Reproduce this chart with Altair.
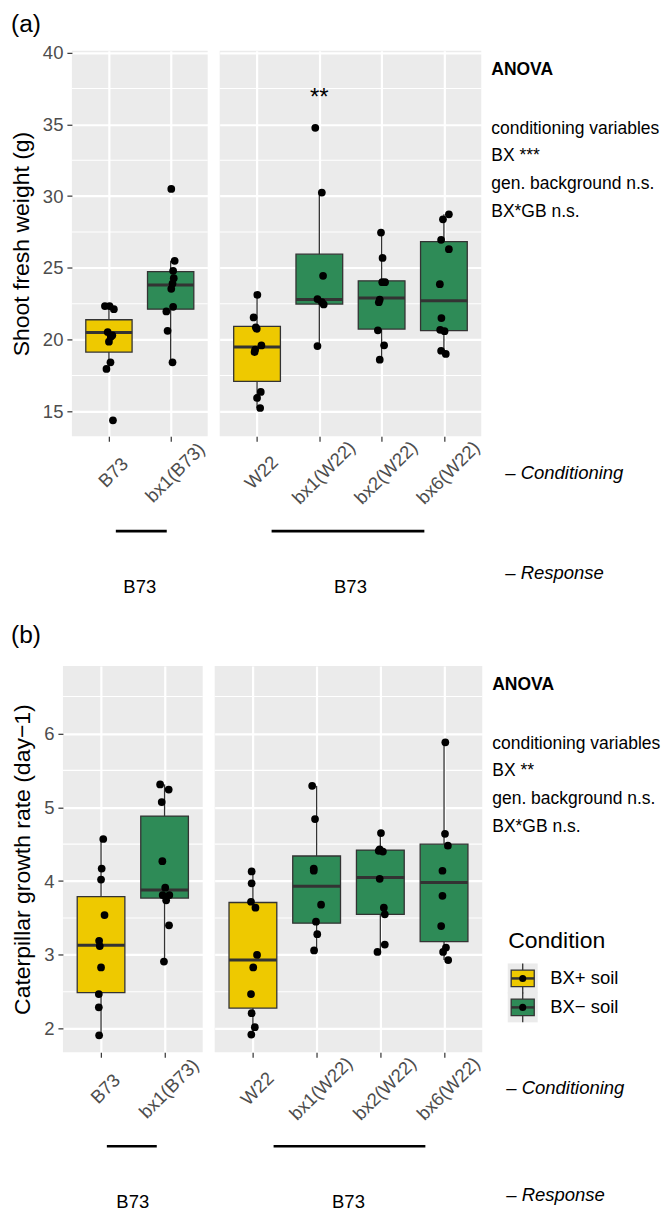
import json
import altair as alt
import pandas as pd

FONT = "Liberation Sans"
YELLOW = "#EEC900"
GREEN = "#2E8B57"
EDGE = "#333333"
PANEL = "#EBEBEB"

# ---------------- categories and labels ----------------
conditions = ["BX+ soil", "BX\u2212 soil"]
cats_b73 = ["B73", "bx1(B73)"]
cats_w22 = ["W22", "bx1(W22)", "bx2(W22)", "bx6(W22)"]
cond_b73 = ["BX+ soil", "BX\u2212 soil"]
cond_w22 = ["BX+ soil", "BX\u2212 soil", "BX\u2212 soil", "BX\u2212 soil"]
response_labels = ["B73", "B73"]
panel_labels = ["(a)", "(b)"]
a_title = "Shoot fresh weight (g)"
b_title = "Caterpillar growth rate (day\u22121)"
anova_head = ["ANOVA"]
a_anova = ["conditioning variables", "BX ***", "gen. background n.s.", "BX*GB n.s."]
b_anova = ["conditioning variables", "BX **", "gen. background n.s.", "BX*GB n.s."]
note_conditioning = ["\u2013 Conditioning"]
note_response = ["\u2013 Response"]
legend_title = ["Condition"]

# ---------------- axes ----------------
a_domain = [13.26, 40.12]
a_ticks = [15, 20, 25, 30, 35, 40]
a_minor = [17.5, 22.5, 27.5, 32.5, 37.5]
b_domain = [1.68, 6.915]
b_ticks = [2, 3, 4, 5, 6]
b_minor = [2.5, 3.5, 4.5, 5.5, 6.5]

# ---------------- (a) box statistics ----------------
a1_q1 = [19.13, 22.12]
a1_med = [20.50, 23.81]
a1_q3 = [21.38, 24.74]
a1_lo = [17.95, 18.41]
a1_hi = [22.33, 25.49]
a2_q1 = [17.09, 22.47, 20.73, 20.62]
a2_med = [19.48, 22.80, 22.89, 22.70]
a2_q3 = [20.92, 25.95, 24.09, 26.83]
a2_lo = [15.23, 19.55, 18.60, 19.00]
a2_hi = [23.12, 30.24, 27.46, 28.73]

# ---------------- (a) observations (value, horizontal jitter) ----------------
a_B73 = [22.33, 22.33, 22.12, 20.52, 20.30, 20.20, 19.85, 18.41, 17.95, 14.37]
a_B73_j = [-0.065, 0.01, 0.08, -0.02, 0.055, 0.03, 0.0, 0.025, -0.04, 0.065]
a_bx1B73 = [30.50, 25.49, 24.79, 24.28, 23.90, 23.54, 22.28, 21.96, 20.61, 18.41]
a_bx1B73_j = [0.01, 0.065, 0.04, 0.05, 0.03, 0.01, 0.04, -0.07, -0.05, 0.03]
a_W22 = [23.12, 21.54, 20.85, 20.75, 19.59, 19.30, 19.13, 16.35, 15.93, 15.23]
a_W22_j = [0.005, -0.055, -0.02, -0.005, 0.07, -0.03, -0.04, 0.06, 0.0, 0.05]
a_bx1W22 = [34.76, 30.24, 24.44, 22.82, 22.61, 22.45, 19.55]
a_bx1W22_j = [-0.065, 0.04, 0.06, -0.03, 0.04, 0.07, -0.03]
a_bx2W22 = [27.46, 25.69, 24.00, 24.00, 22.79, 22.60, 20.64, 19.60, 18.60]
a_bx2W22_j = [-0.01, 0.015, 0.01, 0.055, -0.03, -0.045, -0.06, 0.04, -0.03]
a_bx6W22 = [28.73, 28.38, 26.95, 26.30, 23.86, 21.50, 20.68, 20.58, 19.22, 19.00]
a_bx6W22_j = [0.08, -0.015, -0.045, 0.08, -0.065, -0.04, -0.06, 0.01, -0.045, 0.03]
a_sig_text = ["**"]
a_sig_idx = [2]
a_sig_y = [36.8]

# ---------------- (b) box statistics ----------------
b1_q1 = [2.49, 3.77]
b1_med = [3.13, 3.88]
b1_q3 = [3.79, 4.88]
b1_lo = [1.91, 2.91]
b1_hi = [4.57, 5.31]
b2_q1 = [2.28, 3.43, 3.55, 3.18]
b2_med = [2.93, 3.93, 4.05, 3.98]
b2_q3 = [3.71, 4.34, 4.42, 4.50]
b2_lo = [1.92, 3.06, 3.04, 2.93]
b2_hi = [4.13, 5.29, 4.65, 5.88]

# ---------------- (b) observations ----------------
b_B73 = [4.57, 4.17, 4.02, 3.54, 3.19, 3.12, 2.83, 2.47, 2.29, 1.91]
b_B73_j = [0.035, 0.01, 0.0, 0.055, -0.03, -0.02, 0.0, -0.035, -0.035, -0.03]
b_bx1B73 = [5.31, 5.24, 5.07, 4.27, 3.91, 3.81, 3.81, 3.74, 3.40, 2.91]
b_bx1B73_j = [-0.07, 0.065, -0.045, -0.035, 0.01, -0.03, 0.075, 0.025, 0.07, -0.01]
b_W22 = [4.13, 3.97, 3.72, 3.64, 3.00, 2.83, 2.47, 2.21, 2.02, 1.92]
b_W22_j = [-0.02, -0.02, -0.03, 0.04, 0.065, 0.005, -0.03, -0.02, 0.03, -0.025]
b_bx1W22 = [5.29, 4.84, 4.17, 4.14, 3.68, 3.45, 3.28, 3.06]
b_bx1W22_j = [-0.07, -0.025, -0.045, -0.045, 0.07, -0.01, 0.01, -0.04]
b_bx2W22 = [4.65, 4.43, 4.41, 4.40, 4.03, 3.64, 3.55, 3.14, 3.04]
b_bx2W22_j = [0.01, -0.01, -0.025, 0.04, -0.01, 0.055, 0.07, 0.07, -0.045]
b_bx6W22 = [5.88, 4.64, 4.48, 4.14, 3.80, 3.39, 3.10, 3.04, 2.93]
b_bx6W22_j = [0.02, 0.015, 0.06, -0.025, -0.025, -0.045, 0.03, -0.015, 0.065]

fill_scale = alt.Scale(domain=conditions, range=[YELLOW, GREEN])


def box_table(conds, q1, med, q3, lo, hi):
    return pd.DataFrame({"idx": list(range(1, len(conds) + 1)), "cond": conds,
                         "q1": q1, "med": med, "q3": q3, "lo": lo, "hi": hi})


def point_table(vals, jits):
    rows = []
    for i, (vl, jl) in enumerate(zip(vals, jits), start=1):
        for v, j in zip(vl, jl):
            rows.append({"idx": i, "val": v, "jit": j})
    return pd.DataFrame(rows)


def txt(values, **kw):
    return alt.Chart(pd.DataFrame({"t": values})).mark_text(**kw)


def facet(cats, conds, stats, vals, jits, ydom, yticks, yminor, w, h,
          ytitle, first, extra_fn):
    n = len(cats)
    xs = alt.Scale(domain=[0.4, n + 0.6], nice=False, zero=False)
    ys = alt.Scale(domain=ydom, nice=False, zero=False)
    xax = alt.Axis(values=list(range(1, n + 1)),
                   labelExpr=json.dumps(cats) + "[datum.value - 1]",
                   title="", grid=True, labelAngle=-45, labelAlign="center",
                   labelBaseline="middle", labelPadding=31, labelOffset=4,
                   labelOverlap=False, labelFlush=False)
    if first:
        yax = alt.Axis(values=yticks, title=ytitle, grid=True, titlePadding=9,
                       labelFlush=False, labelOverlap=False)
    else:
        yax = alt.Axis(values=yticks, title="", grid=True, labels=False,
                       ticks=False)

    def X(f):
        return alt.X(f, scale=xs, axis=xax)

    def Y(f):
        return alt.Y(f, scale=ys, axis=yax)

    bt = box_table(conds, *stats)
    pt = point_table(vals, jits)
    minor = alt.Chart(pd.DataFrame({"v": yminor})).mark_rule(
        color="white", strokeWidth=1.1).encode(y=Y("v:Q"))
    wh1 = alt.Chart(bt).mark_rule(color=EDGE, strokeWidth=1.3).encode(
        x=X("idx:Q"), y=Y("lo:Q"), y2=alt.Y2("q1"))
    wh2 = alt.Chart(bt).mark_rule(color=EDGE, strokeWidth=1.3).encode(
        x=X("idx:Q"), y=Y("q3:Q"), y2=alt.Y2("hi"))
    box = alt.Chart(bt).transform_calculate(
        xl="datum.idx - 0.375", xr="datum.idx + 0.375"
    ).mark_rect(stroke=EDGE, strokeWidth=1.3).encode(
        x=X("xl:Q"), x2=alt.X2("xr"), y=Y("q1:Q"), y2=alt.Y2("q3"),
        fill=alt.Fill("cond:N", scale=fill_scale, legend=None))
    med = alt.Chart(bt).transform_calculate(
        xl="datum.idx - 0.375", xr="datum.idx + 0.375"
    ).mark_rule(color=EDGE, strokeWidth=3).encode(
        x=X("xl:Q"), x2=alt.X2("xr"), y=Y("med:Q"))
    pts = alt.Chart(pt).transform_calculate(xp="datum.idx + datum.jit").mark_circle(
        size=60, color="black", opacity=1).encode(x=X("xp:Q"), y=Y("val:Q"))
    layers = [minor, wh1, wh2, box, med, pts] + extra_fn(X, Y)
    return alt.layer(*layers).properties(
        width=w, height=h, view=alt.ViewBackground(fill=PANEL, stroke="transparent"))


def response_layers(label, x0, x1, w, line_y=481, text_y=543):
    line = txt([label]).mark_rule(color="black", strokeWidth=2.6).encode(
        x=alt.value(x0), x2=alt.value(x1), y=alt.value(line_y))
    lab = txt([label], fontSize=18.5, align="center", baseline="alphabetic",
              color="black").encode(text="t:N", x=alt.value(w / 2), y=alt.value(text_y))
    return [line, lab]


def side(anova_lines, resp_y, h, legend):
    layers = [
        txt(anova_head, align="left", baseline="alphabetic", fontSize=17.5,
            fontWeight="bold", color="black").encode(
            text="t:N", x=alt.value(-2), y=alt.value(24)),
        txt(["\n".join(anova_lines)], align="left", baseline="alphabetic",
            fontSize=17.5, lineHeight=27.7, lineBreak="\n", color="black").encode(
            text="t:N", x=alt.value(-2), y=alt.value(83)),
        txt(note_conditioning, align="left", baseline="alphabetic", fontSize=18.5,
            fontStyle="italic", color="black").encode(
            text="t:N", x=alt.value(12), y=alt.value(429)),
        txt(note_response, align="left", baseline="alphabetic", fontSize=18.5,
            fontStyle="italic", color="black").encode(
            text="t:N", x=alt.value(12), y=alt.value(resp_y)),
    ]
    if legend:
        ld = pd.DataFrame({"cond": conditions})
        ly = alt.Y("cond:N", scale=alt.Scale(type="point", domain=conditions,
                                             range=[313, 342], padding=0), axis=None)
        kx = alt.value(28.5)
        layers += [
            txt(legend_title, align="left", baseline="alphabetic", fontSize=23,
                color="black").encode(text="t:N", x=alt.value(14), y=alt.value(283)),
            alt.Chart(ld).mark_point(shape="square", filled=True, color=PANEL,
                                     size=900, opacity=1).encode(x=kx, y=ly),
            alt.Chart(ld).mark_point(shape="M0,-1V-0.55M0,0.55V1", filled=False,
                                     color=EDGE, strokeWidth=1.3, size=900,
                                     opacity=1).encode(x=kx, y=ly),
            alt.Chart(ld).mark_point(shape="M-0.77,-0.55H0.77V0.55H-0.77Z",
                                     filled=True, stroke=EDGE, strokeWidth=1.3,
                                     size=900, opacity=1).encode(
                x=kx, y=ly, fill=alt.Fill("cond:N", scale=fill_scale, legend=None)),
            alt.Chart(ld).mark_point(shape="M-0.77,0H0.77", filled=False,
                                     color=EDGE, strokeWidth=2.5, size=900,
                                     opacity=1).encode(x=kx, y=ly),
            alt.Chart(ld).mark_circle(size=50, color="black", opacity=1).encode(
                x=kx, y=ly),
            alt.Chart(ld).mark_text(align="left", baseline="middle", fontSize=18.5,
                                    color="black").encode(
                text="cond:N", x=alt.value(56), y=ly),
        ]
    return alt.layer(*layers).properties(width=160, height=h)


# ---------------- panel (a) ----------------
AH = 386
fA1 = facet(cats_b73, cond_b73, (a1_q1, a1_med, a1_q3, a1_lo, a1_hi),
            [a_B73, a_bx1B73], [a_B73_j, a_bx1B73_j], a_domain, a_ticks, a_minor,
            136, AH, a_title, True,
            lambda X, Y: [txt([panel_labels[0]], align="left", baseline="top",
                              fontSize=24.5, color="black").encode(
                text="t:N", x=alt.value(-61), y=alt.value(-38))]
            + response_layers(response_labels[0], 44, 95, 136))
fA2 = facet(cats_w22, cond_w22, (a2_q1, a2_med, a2_q3, a2_lo, a2_hi),
            [a_W22, a_bx1W22, a_bx2W22, a_bx6W22],
            [a_W22_j, a_bx1W22_j, a_bx2W22_j, a_bx6W22_j],
            a_domain, a_ticks, a_minor, 262, AH, "", False,
            lambda X, Y: [alt.Chart(pd.DataFrame({"idx": a_sig_idx, "v": a_sig_y,
                                                  "t": a_sig_text})).mark_text(
                fontSize=24, baseline="middle", color="black").encode(
                x=X("idx:Q"), y=Y("v:Q"), text="t:N")]
            + response_layers(response_labels[1], 52, 205, 262))
sA = side(a_anova, 529, AH, False)
spacer = txt([""]).encode(text="t:N", x=alt.value(0), y=alt.value(0)).properties(
    width=1, height=1)
innerA = alt.hconcat(fA1, fA2, sA, spacing=12, bounds="flush").resolve_scale(
    x="independent", y="independent")
rowA = alt.hconcat(spacer, innerA, spacing=8, bounds="flush").resolve_scale(
    x="independent", y="independent")

# ---------------- panel (b) ----------------
BH = 387
fB1 = facet(cats_b73, cond_b73, (b1_q1, b1_med, b1_q3, b1_lo, b1_hi),
            [b_B73, b_bx1B73], [b_B73_j, b_bx1B73_j], b_domain, b_ticks, b_minor,
            140, BH, b_title, True,
            lambda X, Y: [txt([panel_labels[1]], align="left", baseline="top",
                              fontSize=24.5, color="black").encode(
                text="t:N", x=alt.value(-52), y=alt.value(-42))]
            + response_layers(response_labels[0], 44, 94, 140))
fB2 = facet(cats_w22, cond_w22, (b2_q1, b2_med, b2_q3, b2_lo, b2_hi),
            [b_W22, b_bx1W22, b_bx2W22, b_bx6W22],
            [b_W22_j, b_bx1W22_j, b_bx2W22_j, b_bx6W22_j],
            b_domain, b_ticks, b_minor, 268, BH, "", False,
            lambda X, Y: response_layers(response_labels[1], 59, 211, 268))
sB = side(b_anova, 536, BH, True)
rowB = alt.hconcat(fB1, fB2, sB, spacing=12, bounds="flush").resolve_scale(
    x="independent", y="independent")

chart = alt.vconcat(rowA, rowB, spacing=26).resolve_scale(
    x="independent", y="independent"
).properties(
    padding={"left": 2, "top": 3, "right": 0, "bottom": 0}
).configure(font=FONT).configure_axis(
    labelFont=FONT, labelFontSize=18.5, labelColor="#4D4D4D", tickColor=EDGE,
    tickSize=5, tickWidth=1.2, domain=False, gridColor="white", gridWidth=2.2,
    titleFont=FONT, titleFontSize=23, titleColor="black", titleFontWeight="normal",
    labelPadding=4
).configure_view(strokeWidth=0)

chart.save("out.html", embed_options={"renderer": "svg", "actions": False})
